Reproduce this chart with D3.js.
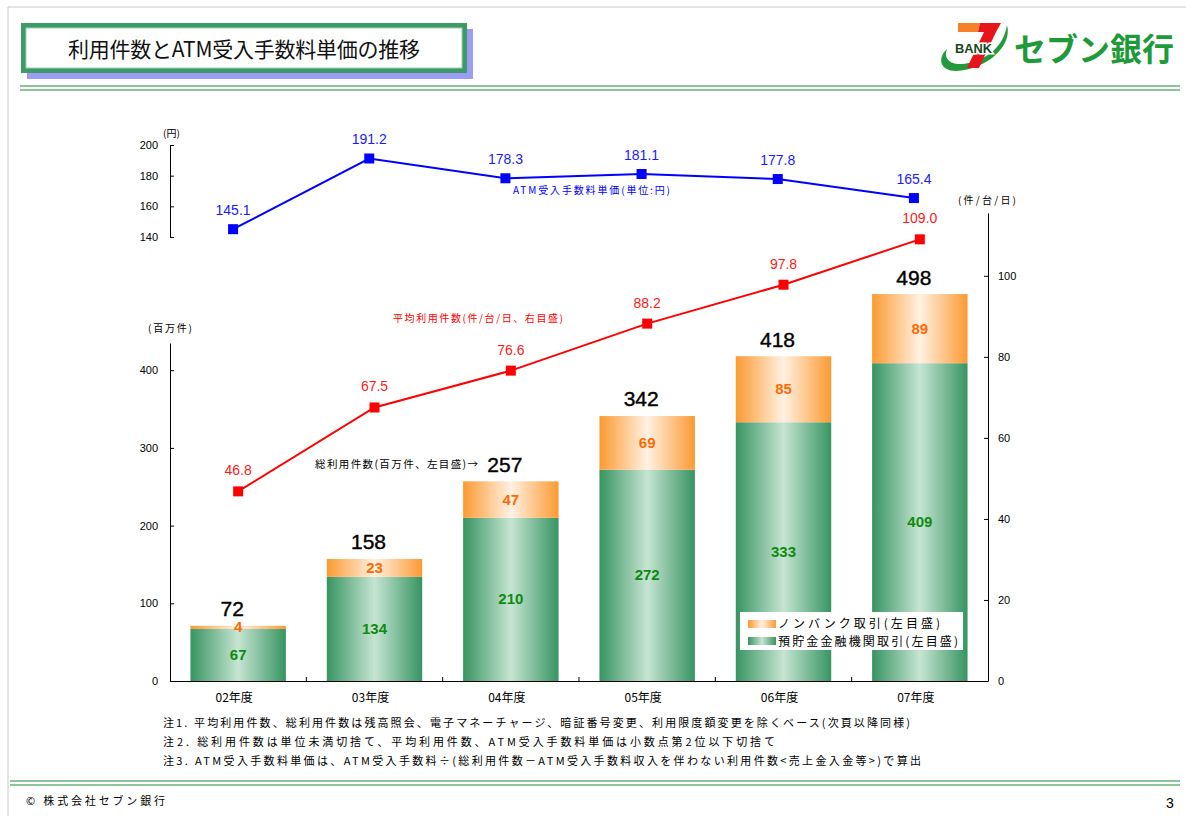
<!DOCTYPE html>
<html lang="ja">
<head>
<meta charset="UTF-8">
<title>利用件数とATM受入手数料単価の推移</title>
<script src="https://d3js.org/d3.v7.min.js"></script>
<style>
  body { margin: 0; background: #fff; }
  svg { display: block; }
  text { font-family: "Noto Sans CJK JP", sans-serif; }
  .num { font-family: "Liberation Sans", Arial, sans-serif; }
  .axis text { font-family: "Liberation Sans", Arial, sans-serif; font-size: 11px; fill: #000; }
  .axis path, .axis line { stroke: #000; }
</style>
</head>
<body>
<div id="chart"></div>
<script>
const years = ["02年度", "03年度", "04年度", "05年度", "06年度", "07年度"]
const bankTx = [67, 134, 210, 272, 333, 409]
const nonbankTx = [4, 23, 47, 69, 85, 89]
const totalTx = [72, 158, 257, 342, 418, 498]
const avgPerAtm = [46.8, 67.5, 76.6, 88.2, 97.8, 109.0]
const feeUnit = [145.1, 191.2, 178.3, 181.1, 177.8, 165.4]
const leftTicks = [0, 100, 200, 300, 400]
const rightTicks = [0, 20, 40, 60, 80, 100]
const topTicks = [140, 160, 180, 200]
const notes = [
  "注1. 平均利用件数、総利用件数は残高照会、電子マネーチャージ、暗証番号変更、利用限度額変更を除くベース(次頁以降同様)",
  "注2. 総利用件数は単位未満切捨て、平均利用件数、ATM受入手数料単価は小数点第2位以下切捨て",
  "注3. ATM受入手数料単価は、ATM受入手数料÷(総利用件数－ATM受入手数料収入を伴わない利用件数<売上金入金等>)で算出"
]

const width = 1186, height = 816
const svg = d3.select("#chart").append("svg")
  .attr("width", width).attr("height", height)

// gradients
const defs = svg.append("defs")
function hGrad(id, edge, mid) {
  const g = defs.append("linearGradient").attr("id", id)
    .attr("x1", "0%").attr("x2", "100%").attr("y1", "0%").attr("y2", "0%")
  g.append("stop").attr("offset", "0%").attr("stop-color", edge)
  g.append("stop").attr("offset", "50%").attr("stop-color", mid)
  g.append("stop").attr("offset", "100%").attr("stop-color", edge)
}
hGrad("gBank", "#379462", "#c6e5d2")
hGrad("gNon", "#fb9a32", "#fff1e2")

// helper for text stretched to the width it has in the slide
function label(g, x, y, size, txt, len, color) {
  const t = g.append("text").attr("x", x).attr("y", y).attr("font-size", size)
    .attr("fill", color || "#000").text(txt)
  if (len) t.attr("textLength", len).attr("lengthAdjust", "spacing")
  return t
}

// page frame
svg.append("line").attr("x1", 8).attr("x2", width).attr("y1", 7).attr("y2", 7).attr("stroke", "#c8c8c8")
svg.append("line").attr("x1", 8).attr("x2", 8).attr("y1", 7).attr("y2", height).attr("stroke", "#c8c8c8")

// title box
svg.append("rect").attr("x", 27).attr("y", 29).attr("width", 446).attr("height", 50).attr("fill", "#9c9cf4")
svg.append("rect").attr("x", 21).attr("y", 23).attr("width", 446).attr("height", 50).attr("fill", "#3d9a66")
svg.append("rect").attr("x", 26).attr("y", 28).attr("width", 436).attr("height", 40).attr("fill", "#fff")
  .attr("stroke", "#9fd0b0").attr("stroke-width", 1)
label(svg, 68, 57, 21, "利用件数とATM受入手数料単価の推移", 352, "#111")

// header / footer double lines
;[[20, 86], [20, 90], [10, 781], [10, 785]].forEach(([x0, y]) => {
  svg.append("line").attr("x1", x0).attr("x2", 1180).attr("y1", y).attr("y2", y)
    .attr("stroke", "#66b07e").attr("stroke-width", 1.5)
})

// logo
const logo = svg.append("g")
logo.append("path")
  .attr("d", "M 1007 25 C 1013 46, 986 70, 956 71 C 940 71, 937 58, 947 49 C 943 59, 951 65, 962 64 C 986 62, 1004 46, 1007 25 Z")
  .attr("fill", "#23993c")
logo.append("path").attr("d", "M 958 23 L 980 23 L 978 32 L 958 32 Z").attr("fill", "#f5822a")
logo.append("path").attr("d", "M 980 23 L 1001 23 L 996 32 L 979 68 L 967 68 L 984 32 L 978 32 Z").attr("fill", "#e8141b")
logo.append("text").attr("x", 955).attr("y", 53).attr("font-size", 12).attr("font-weight", "bold")
  .attr("class", "num").attr("fill", "#1a4424").attr("stroke", "#fff").attr("stroke-width", 3)
  .attr("paint-order", "stroke").attr("textLength", 37).attr("lengthAdjust", "spacingAndGlyphs").text("BANK")
svg.append("text").attr("x", 1014).attr("y", 61).attr("font-size", 32).attr("font-weight", "bold")
  .attr("fill", "#1f9a3a").text("セブン銀行")

// scales
const x = d3.scaleBand().domain(years).range([170, 988]).paddingInner(0.3).paddingOuter(0.15)
const xTop = d3.scaleBand().domain(years).range([165, 982])
const yL = d3.scaleLinear().domain([0, 435]).range([681, 343])
const yR = d3.scaleLinear().domain([0, 115.5]).range([681, 213])
const yT = d3.scaleLinear().domain([140, 200]).range([237, 145])

// axes
svg.append("g").attr("class", "axis").attr("transform", "translate(170,0)")
  .call(d3.axisLeft(yL).tickValues(leftTicks).tickSizeInner(-4).tickSizeOuter(0).tickPadding(12))
svg.append("g").attr("class", "axis").attr("transform", "translate(988,0)")
  .call(d3.axisRight(yR).tickValues(rightTicks).tickSizeInner(-4).tickSizeOuter(0).tickPadding(10))
svg.append("g").attr("class", "axis").attr("transform", "translate(170,0)")
  .call(d3.axisLeft(yT).tickValues(topTicks).tickSizeInner(-4).tickSizeOuter(0).tickPadding(12))

const xAxis = svg.append("g").attr("class", "axis").attr("transform", "translate(0,681)")
  .call(d3.axisBottom(x).tickSize(0).tickPadding(12))
xAxis.selectAll("text").style("font-family", "'Noto Sans CJK JP', sans-serif").style("font-size", "12px")
  .attr("dx", -4)
// category separators
xAxis.selectAll(".sep").data(years.slice(1)).enter().append("line")
  .attr("x1", d => x(d) - x.step() * x.paddingInner() / 2)
  .attr("x2", d => x(d) - x.step() * x.paddingInner() / 2)
  .attr("y1", 0).attr("y2", -4).attr("stroke", "#000")

// unit labels
label(svg, 163, 137, 10, "(円)", 17)
label(svg, 148, 332, 10, "(百万件)", 44)
label(svg, 958, 204, 10, "(件/台/日)", 58)

// bars
const bars = svg.append("g")
bars.selectAll(".bank").data(years).enter().append("rect")
  .attr("x", d => x(d)).attr("width", x.bandwidth())
  .attr("y", (d, i) => yL(bankTx[i])).attr("height", (d, i) => yL(0) - yL(bankTx[i]))
  .attr("fill", "url(#gBank)")
bars.selectAll(".non").data(years).enter().append("rect")
  .attr("x", d => x(d)).attr("width", x.bandwidth())
  .attr("y", (d, i) => yL(bankTx[i] + nonbankTx[i]))
  .attr("height", (d, i) => yL(bankTx[i]) - yL(bankTx[i] + nonbankTx[i]))
  .attr("fill", "url(#gNon)")

bars.selectAll(".bl").data(years).enter().append("text").attr("class", "num")
  .attr("x", d => x(d) + x.bandwidth() / 2)
  .attr("y", (d, i) => yL(bankTx[i] / 2) + 5)
  .attr("text-anchor", "middle").attr("font-size", 15).attr("font-weight", "bold").attr("fill", "#108a10")
  .text((d, i) => bankTx[i])
bars.selectAll(".nl").data(years).enter().append("text").attr("class", "num")
  .attr("x", d => x(d) + x.bandwidth() / 2)
  .attr("y", (d, i) => yL(bankTx[i] + nonbankTx[i] / 2) + 5)
  .attr("text-anchor", "middle").attr("font-size", 15).attr("font-weight", "bold").attr("fill", "#ff6a00")
  .text((d, i) => nonbankTx[i])
bars.selectAll(".tl").data(years).enter().append("text").attr("class", "num")
  .attr("x", d => x(d) + x.bandwidth() / 2 - 6)
  .attr("y", (d, i) => yL(totalTx[i]) - 9)
  .attr("text-anchor", "middle").attr("font-size", 21).attr("fill", "#000")
  .attr("stroke", "#000").attr("stroke-width", 0.4)
  .text((d, i) => totalTx[i])

label(svg, 315, 468, 10.5, "総利用件数(百万件、左目盛)→", 163)

// red line: average usage per ATM per day
const redLine = d3.line().x((d, i) => x(years[i]) + x.bandwidth() / 2).y(d => yR(d))
svg.append("path").datum(avgPerAtm).attr("d", redLine).attr("fill", "none")
  .attr("stroke", "#ff0000").attr("stroke-width", 2)
svg.selectAll(".rm").data(avgPerAtm).enter().append("rect")
  .attr("x", (d, i) => x(years[i]) + x.bandwidth() / 2 - 5).attr("y", d => yR(d) - 5)
  .attr("width", 10).attr("height", 10).attr("fill", "#ff0000")
svg.selectAll(".rl").data(avgPerAtm).enter().append("text").attr("class", "num")
  .attr("x", (d, i) => x(years[i]) + x.bandwidth() / 2).attr("y", d => yR(d) - 16)
  .attr("text-anchor", "middle").attr("font-size", 14).attr("fill", "#ff1a1a")
  .text(d => d.toFixed(1))
label(svg, 393, 322, 10, "平均利用件数(件/台/日、右目盛)", 170, "#ff0000")

// blue line: fee per transaction
const blueLine = d3.line().x((d, i) => xTop(years[i]) + xTop.bandwidth() / 2).y(d => yT(d))
svg.append("path").datum(feeUnit).attr("d", blueLine).attr("fill", "none")
  .attr("stroke", "#0000ff").attr("stroke-width", 2)
svg.selectAll(".bm").data(feeUnit).enter().append("rect")
  .attr("x", (d, i) => xTop(years[i]) + xTop.bandwidth() / 2 - 5).attr("y", d => yT(d) - 5)
  .attr("width", 10).attr("height", 10).attr("fill", "#0000ff")
svg.selectAll(".blb").data(feeUnit).enter().append("text").attr("class", "num")
  .attr("x", (d, i) => xTop(years[i]) + xTop.bandwidth() / 2).attr("y", d => yT(d) - 14)
  .attr("text-anchor", "middle").attr("font-size", 14).attr("fill", "#1a1aff")
  .text(d => d.toFixed(1))
label(svg, 513, 194, 10, "ATM受入手数料単価(単位:円)", 157, "#0000ff")

// legend
const lg = svg.append("g").attr("transform", "translate(740,612)")
lg.append("rect").attr("width", 223).attr("height", 38).attr("fill", "#fff")
lg.append("rect").attr("x", 8).attr("y", 8).attr("width", 28).attr("height", 8).attr("fill", "url(#gNon)")
lg.append("rect").attr("x", 8).attr("y", 25).attr("width", 28).attr("height", 8).attr("fill", "url(#gBank)")
label(lg, 38, 16, 12, "ノンバンク取引(左目盛)", 162)
label(lg, 38, 34, 12, "預貯金金融機関取引(左目盛)", 180)

// notes
const noteLens = [747, 612, 758]
notes.forEach((d, i) => label(svg, 163, 727 + i * 19, 11, d, noteLens[i]))

// footer
label(svg, 26, 805, 11, "© 株式会社セブン銀行", 139)
svg.append("text").attr("x", 1166).attr("y", 808).attr("font-size", 14).attr("class", "num").text("3")
</script>
</body>
</html>
